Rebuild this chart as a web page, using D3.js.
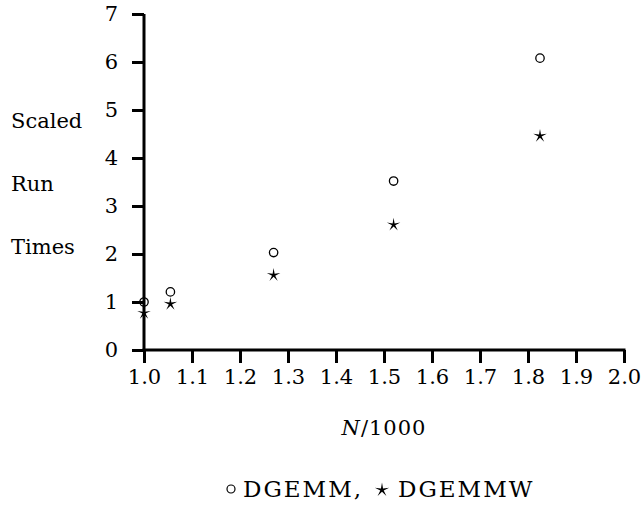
<!DOCTYPE html>
<html>
<head>
<meta charset="utf-8">
<script src="https://cdn.jsdelivr.net/npm/d3@7"></script>
<style>
  body { margin: 0; background: #fff; }
</style>
</head>
<body>
<div id="chart"></div>
<script>
// values
var sizes = [1.0, 1.055, 1.27, 1.52, 1.825]
var dgemm = [1.0, 1.21, 2.03, 3.52, 6.08]
var dgemmw = [0.79, 0.98, 1.58, 2.63, 4.48]
var xTicks = [1.0, 1.1, 1.2, 1.3, 1.4, 1.5, 1.6, 1.7, 1.8, 1.9, 2.0]
var yTicks = [0, 1, 2, 3, 4, 5, 6, 7]
var yLabel = ["Scaled", "Run", "Times"]

var width = 642, height = 508
var mLeft = 144, mTop = 14, mRight = 624, mBottom = 350
var serif = "'DejaVu Serif', 'Liberation Serif', serif"

var svg = d3.select("#chart").append("svg")
    .attr("width", width)
    .attr("height", height)

var x = d3.scaleLinear().domain([1, 2]).range([mLeft, mRight])
var y = d3.scaleLinear().domain([0, 7]).range([mBottom, mTop])

// thin five pointed star, like the TeX \star
var thinStar = {
    draw: function(ctx, size) {
        var r = Math.sqrt(size), ri = r * 0.24
        for (var i = 0; i < 10; i++) {
            var a = -Math.PI / 2 + i * Math.PI / 5
            var rr = i % 2 ? ri : r
            if (i == 0) ctx.moveTo(rr * Math.cos(a), rr * Math.sin(a))
            else ctx.lineTo(rr * Math.cos(a), rr * Math.sin(a))
        }
        ctx.closePath()
    }
}

var xAxis = svg.append("g")
    .attr("transform", "translate(0," + mBottom + ")")
    .call(d3.axisBottom(x).tickValues(xTicks).tickFormat(d3.format(".1f")).tickSize(13).tickPadding(6))
var yAxis = svg.append("g")
    .attr("transform", "translate(" + mLeft + ",0)")
    .call(d3.axisLeft(y).tickValues(yTicks).tickFormat(d3.format("d")).tickSize(12).tickPadding(14))

xAxis.select(".domain").attr("d", "M" + (mLeft - 1.5) + ",0H" + (mRight + 1.5))
yAxis.select(".domain").attr("d", "M0," + mTop + "V" + (mBottom + 1.5))
svg.selectAll(".domain").attr("stroke", "#000").attr("stroke-width", 3)
svg.selectAll(".tick line").attr("stroke", "#000").attr("stroke-width", 3)
svg.selectAll(".tick text").attr("fill", "#000")
    .style("font-size", "21px")
    .style("font-family", serif)
xAxis.attr("font-family", null)
yAxis.attr("font-family", null)

svg.selectAll(".ylab")
    .data(yLabel)
    .enter().append("text")
    .attr("x", 11)
    .attr("y", function(d, i) { return 128 + i * 63 })
    .style("font-family", serif)
    .style("font-size", "21px")
    .text(function(d) { return d })

var xl = svg.append("text")
    .attr("x", 384).attr("y", 435)
    .attr("text-anchor", "middle")
    .style("font-family", serif)
    .style("font-size", "21px")
    .style("letter-spacing", "1px")
xl.append("tspan").style("font-style", "italic").text("N")
xl.append("tspan").text("/1000")

svg.selectAll("circle.dgemm")
    .data(sizes)
    .enter().append("circle")
    .attr("class", "dgemm")
    .attr("cx", function(d) { return x(d) })
    .attr("cy", function(d, i) { return y(dgemm[i]) })
    .attr("r", 4.2)
    .style("fill", "none")
    .style("stroke", "#000")
    .style("stroke-width", 1.3)

svg.selectAll("path.dgemmw")
    .data(sizes)
    .enter().append("path")
    .attr("class", "dgemmw")
    .attr("transform", function(d, i) { return "translate(" + x(d) + "," + (y(dgemmw[i]) + 1) + ")" })
    .attr("d", d3.symbol().type(thinStar).size(50))
    .style("fill", "#000")

// legend
var lg = svg.append("g")
lg.append("circle").attr("cx", 231).attr("cy", 489).attr("r", 4)
    .style("fill", "none").style("stroke", "#000").style("stroke-width", 1.2)
lg.append("text").attr("x", 243).attr("y", 497)
    .style("font-family", serif).style("font-size", "23px").style("letter-spacing", "2px").text("DGEMM,")
lg.append("path").attr("transform", "translate(382,490)")
    .attr("d", d3.symbol().type(thinStar).size(56)).style("fill", "#000")
lg.append("text").attr("x", 398).attr("y", 497)
    .style("font-family", serif).style("font-size", "23px").style("letter-spacing", "2px").text("DGEMMW")
</script>
</body>
</html>
